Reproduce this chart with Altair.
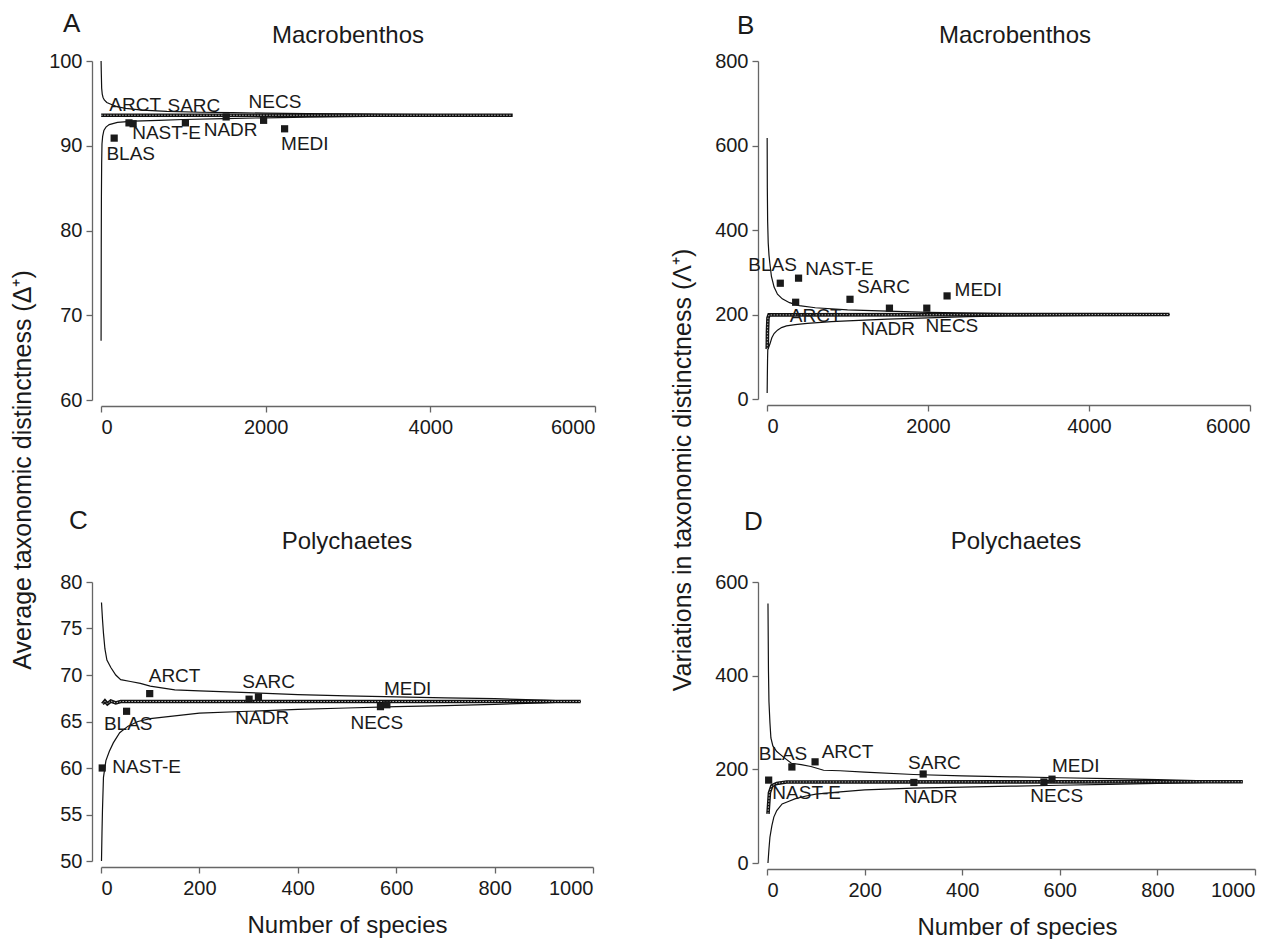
import altair as alt
import pandas as pd

FONT = "Liberation Sans, Arial, sans-serif"

names = ["BLAS", "ARCT", "NAST-E", "SARC", "NADR", "NECS", "MEDI"]

# ---------------- Panel A: Macrobenthos, average taxonomic distinctness
a_px = [160, 340, 390, 1025, 1520, 1975, 2230]
a_py = [90.9, 92.7, 92.6, 92.7, 93.4, 93.0, 92.0]
a_lx = [66, 101, 379, 808, 1247, 1793, 2187]
a_ly = [89.0, 94.8, 91.55, 94.7, 91.9, 95.2, 90.2]
a_up_x = [1, 4, 8, 15, 25, 40, 70, 120, 200, 300, 500, 800, 1200, 1600, 2000, 2500, 3000, 3500, 4000, 4500, 5000]
a_up_y = [100, 98.5, 96.8, 96.1, 95.7, 95.4, 95.1, 94.9, 94.6, 94.4, 94.2, 94.05, 93.95, 93.9, 93.85, 93.8, 93.75, 93.7, 93.67, 93.63, 93.6]
a_lo_x = [1, 3, 5, 8, 12, 20, 35, 60, 100, 200, 400, 700, 1000, 1500, 2000, 2500, 3000, 3500, 4000, 4500, 5000]
a_lo_y = [67, 78, 84, 88, 90.2, 91.1, 91.8, 92.2, 92.5, 92.75, 92.9, 93.0, 93.1, 93.2, 93.3, 93.37, 93.43, 93.48, 93.53, 93.57, 93.6]
a_m_x = [2, 20, 5000]
a_m_y = [93.6, 93.6, 93.6]

# ---------------- Panel B: Macrobenthos, variation in taxonomic distinctness
b_px = [165, 356, 392, 1031, 1521, 1985, 2237]
b_py = [274, 229, 286, 236, 215, 215, 244]
b_lx = [-232, 284, 474, 1119, 1170, 1969, 2330]
b_ly = [316, 197, 308, 266, 165, 173, 258]
b_up_x = [2, 4, 8, 15, 25, 36, 55, 88, 130, 190, 280, 400, 600, 1000, 1500, 2000, 3000, 4000, 5000]
b_up_y = [618, 500, 420, 370, 340, 320, 290, 265, 248, 237, 228, 221, 216, 211, 208, 205, 202, 200.5, 200]
b_lo_x = [2, 4, 7, 10, 20, 36, 60, 88, 130, 180, 242, 350, 500, 800, 1000, 1500, 2000, 2500, 3000, 4000, 5000]
b_lo_y = [14, 50, 95, 118, 122, 130, 145, 155, 163, 169, 173, 176, 179, 183, 185, 189, 192, 195, 196.5, 198, 200]
b_m_x = [3, 6, 12, 25, 5000]
b_m_y = [118, 160, 192, 199, 200]

# ---------------- Panel C: Polychaetes, average taxonomic distinctness
c_px = [52, 99, 2.5, 320, 301, 568, 581]
c_py = [66.1, 68.0, 60.0, 67.65, 67.4, 66.6, 66.8]
c_lx = [6, 97, 23, 287, 273, 507, 575]
c_ly = [64.7, 69.9, 60.1, 69.3, 65.4, 64.8, 68.5]
c_up_x = [1, 3, 5, 8, 12, 20, 30, 40, 60, 80, 100, 150, 200, 300, 400, 500, 600, 700, 800, 900, 975]
c_up_y = [77.8, 76.0, 74.5, 72.8, 71.6, 70.8, 70.0, 69.5, 69.3, 69.1, 68.8, 68.4, 68.3, 68.1, 67.9, 67.75, 67.65, 67.55, 67.45, 67.3, 67.15]
c_lo_x = [1, 2, 3, 5, 10, 17, 25, 38, 55, 75, 100, 150, 200, 300, 400, 500, 600, 700, 800, 900, 975]
c_lo_y = [50.0, 53.0, 55.5, 59.0, 60.8, 61.8, 62.7, 63.8, 64.5, 65.0, 65.3, 65.6, 65.9, 66.1, 66.3, 66.45, 66.6, 66.7, 66.85, 67.0, 67.15]
c_m_x = [3, 8, 13, 20, 30, 40, 60, 975]
c_m_y = [66.9, 67.2, 66.9, 67.2, 67.0, 67.15, 67.15, 67.15]

# ---------------- Panel D: Polychaetes, variation in taxonomic distinctness
d_px = [51, 98.5, 3.4, 320, 301, 567.5, 584]
d_py = [205, 216, 177, 190, 172, 173, 179]
d_lx = [-17, 112, 11, 289, 280, 539.5, 584]
d_ly = [233.5, 237, 148.6, 214, 140, 143.6, 208]
d_up_x = [2, 3, 4, 6, 8, 12, 20, 35, 50, 70, 90, 116, 150, 200, 300, 400, 500, 600, 700, 800, 900, 975]
d_up_y = [554, 410, 345, 300, 267, 250, 238, 225, 213, 210, 206, 198, 197, 194, 189, 186, 184, 182, 180, 178, 175.5, 173.5]
d_lo_x = [2, 4, 6, 10, 14, 20, 31, 45, 57, 80, 100, 150, 200, 300, 400, 500, 600, 700, 800, 900, 975]
d_lo_y = [0, 30, 55, 80, 98, 112, 126, 132, 137, 143, 147, 152, 156, 160, 162, 164, 166, 168, 170, 172, 173.5]
d_m_x = [2, 5, 10, 20, 40, 975]
d_m_y = [105, 150, 165, 170, 173, 173.5]


def txt(s, x, y, size, align="left", baseline="middle", angle=0):
    m = alt.Chart(pd.DataFrame({"t": [s]})).mark_text(
        align=align, baseline=baseline, angle=angle, font=FONT, fontSize=size,
        color="#1a1a1a")
    return m.encode(text="t:N", x=alt.value(x), y=alt.value(y))


def panel(letter, letter_pos, title, title_pos, px, py, lx, ly,
          up_x, up_y, lo_x, lo_y, m_x, m_y, xdom, xticks, ydom, yticks,
          w, h, xtitle="", xtitle_x=0, ytitle=None, ytitle_pos=None):
    pts = pd.DataFrame({"x": px, "y": py, "name": names})
    labs = pd.DataFrame({"x": lx, "y": ly, "name": names})
    curves = pd.concat([
        pd.DataFrame({"x": up_x, "y": up_y, "c": "upper"}),
        pd.DataFrame({"x": lo_x, "y": lo_y, "c": "lower"}),
    ])
    mean = pd.DataFrame({"x": m_x, "y": m_y})

    xaxis_kw = dict(values=xticks, offset=6, format="d", labelPadding=5, title=xtitle)
    if xtitle:
        xaxis_kw.update(titleY=65, titleX=xtitle_x, titleAlign="center",
                        titleBaseline="alphabetic", titleFontSize=24)
    xenc = alt.X("x:Q", scale=alt.Scale(domain=xdom, nice=False, zero=False),
                 axis=alt.Axis(**xaxis_kw))
    yenc = alt.Y("y:Q", scale=alt.Scale(domain=ydom, nice=False, zero=False),
                 axis=alt.Axis(values=yticks, offset=9, format="d", labelPadding=4, title=""))

    curve_l = alt.Chart(curves).mark_line(color="#111", strokeWidth=1.2).encode(
        x=xenc, y=yenc, detail="c:N")
    mean_l = alt.Chart(mean).mark_line(color="#111", strokeWidth=3.6).encode(x=xenc, y=yenc)
    mean_d = alt.Chart(mean).mark_line(color="#bbbbbb", strokeWidth=1.0,
                                       strokeDash=[1.5, 1.5]).encode(x=xenc, y=yenc)
    sq = alt.Chart(pts).mark_square(size=52, color="#1a1a1a", opacity=1).encode(x=xenc, y=yenc)
    tx = alt.Chart(labs).mark_text(align="left", baseline="middle", font=FONT,
                                   fontSize=19, color="#1a1a1a").encode(
        x=xenc, y=yenc, text="name:N")
    layers = [curve_l, mean_l, mean_d, sq, tx,
              txt(letter, letter_pos[0], letter_pos[1], 26),
              txt(title, title_pos[0], title_pos[1], 24, align="center", baseline="alphabetic")]
    if ytitle:
        layers.append(txt(ytitle, ytitle_pos[0], ytitle_pos[1], 25, align="center", angle=270))
    return alt.layer(*layers).properties(width=w, height=h)


A = panel("A", (-38, -37), "Macrobenthos", (247, -17.7), a_px, a_py, a_lx, a_ly,
          a_up_x, a_up_y, a_lo_x, a_lo_y, a_m_x, a_m_y,
          [0, 6000], [0, 2000, 4000, 6000], [60, 100], [60, 70, 80, 90, 100],
          494, 339, ytitle="Average taxonomic distinctness (Δ⁺)", ytitle_pos=(-78, 409))
B = panel("B", (-30, -35), "Macrobenthos", (248, -17.7), b_px, b_py, b_lx, b_ly,
          b_up_x, b_up_y, b_lo_x, b_lo_y, b_m_x, b_m_y,
          [0, 6000], [0, 2000, 4000, 6000], [0, 800], [0, 200, 400, 600, 800],
          483, 338, ytitle="Variations in taxonomic distinctness (Λ⁺)", ytitle_pos=(-84, 409))
C = panel("C", (-32, -61.5), "Polychaetes", (246, -33), c_px, c_py, c_lx, c_ly,
          c_up_x, c_up_y, c_lo_x, c_lo_y, c_m_x, c_m_y,
          [0, 1000], [0, 200, 400, 600, 800, 1000], [50, 80], [50, 55, 60, 65, 70, 75, 80],
          492, 279, xtitle="Number of species", xtitle_x=246)
D = panel("D", (-23, -60), "Polychaetes", (249, -33), d_px, d_py, d_lx, d_ly,
          d_up_x, d_up_y, d_lo_x, d_lo_y, d_m_x, d_m_y,
          [0, 1000], [0, 200, 400, 600, 800, 1000], [0, 600], [0, 200, 400, 600],
          488, 281, xtitle="Number of species", xtitle_x=250)

chart = alt.concat(A, B, C, D, columns=2, bounds="flush",
                   spacing=alt.RowColnumber(row=182, column=172)).properties(
    padding={"left": 3, "top": 3, "right": 5, "bottom": 0}
).configure_axis(
    domainColor="#666666", tickColor="#666666", domainWidth=1.3, tickWidth=1.3,
    tickSize=6, labelFont=FONT, labelFontSize=20, labelColor="#1a1a1a", grid=False,
    titleFont=FONT, titleFontSize=24, titleColor="#1a1a1a", titleFontWeight="normal"
).configure_view(strokeWidth=0)

chart.save("out.html", embed_options={"renderer": "svg", "actions": False})
